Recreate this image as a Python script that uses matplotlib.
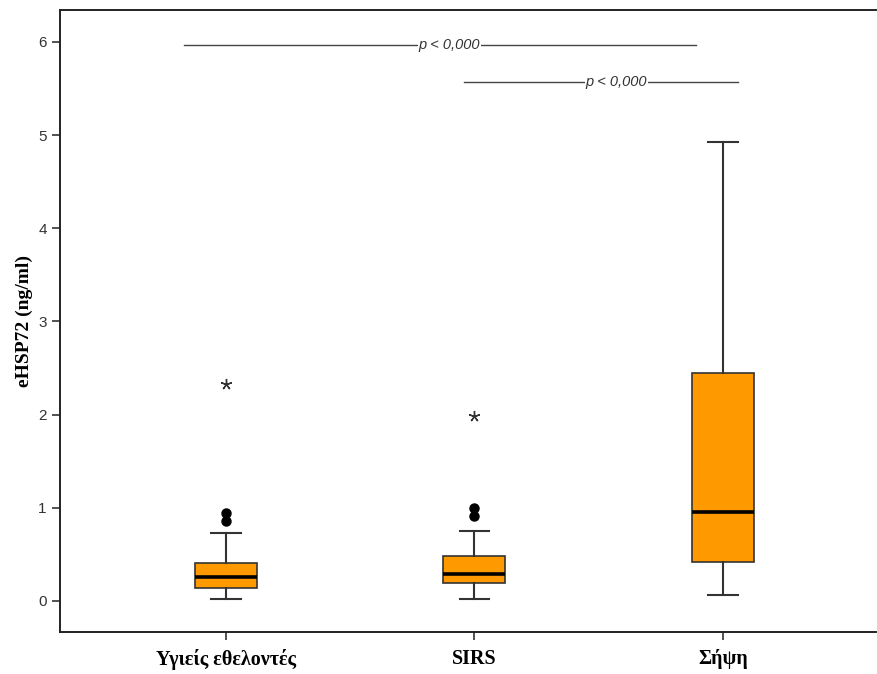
import matplotlib
matplotlib.use("Agg")
import matplotlib.pyplot as plt

# Group summaries (ng/ml)
groups = ["Υγιείς εθελοντές", "SIRS", "Σήψη"]
whisker_low = [0.02, 0.02, 0.06]
q1 = [0.14, 0.19, 0.42]
median = [0.26, 0.29, 0.95]
q3 = [0.41, 0.48, 2.45]
whisker_high = [0.73, 0.75, 4.93]
outliers = [[0.86, 0.94], [0.91, 1.00], []]
extremes = [[2.33], [1.99], []]

# Pairwise comparisons: (from group, to group, height, label)
comp_from = [0.83, 1.96]
comp_to = [2.89, 3.06]
comp_y = [5.97, 5.57]
comp_text_x = [1.90, 2.57]
comp_label = ["p < 0,000", "p < 0,000"]

positions = [1, 2, 3]

fig = plt.figure(figsize=(8.77, 6.74), dpi=100)
ax = fig.add_axes([0.0684, 0.0623, 0.9304, 0.9229])

stats = []
for i, name in enumerate(groups):
    stats.append(dict(label=name, whislo=whisker_low[i], q1=q1[i], med=median[i],
                      q3=q3[i], whishi=whisker_high[i], fliers=outliers[i]))

edge = "#333333"
ax.bxp(stats, positions=positions, widths=0.25, capwidths=0.12,
       patch_artist=True, showfliers=True,
       boxprops=dict(facecolor="#FF9900", edgecolor=edge, linewidth=1.2),
       medianprops=dict(color="black", linewidth=2.6),
       whiskerprops=dict(color=edge, linewidth=1.5),
       capprops=dict(color=edge, linewidth=1.5),
       flierprops=dict(marker="o", markerfacecolor="black", markeredgecolor="black",
                       markersize=6.5, linestyle="none"))

for pos, vals in zip(positions, extremes):
    if vals:
        ax.plot([pos] * len(vals), vals, linestyle="none", marker=(5, 2),
                markersize=8, color="#333333", markeredgewidth=1.0)

for x0, x1, y, tx, lab in zip(comp_from, comp_to, comp_y, comp_text_x, comp_label):
    ax.plot([x0, x1], [y, y], color="#444444", linewidth=1.0)
    ax.text(tx, y, lab, ha="center", va="center", fontsize=10.5, style="italic",
            family="Liberation Sans", color="#333333",
            bbox=dict(facecolor="white", edgecolor="none", pad=0.5))

ax.set_xlim(0.332, 3.616)
ax.set_ylim(-0.333, 6.343)
ax.set_yticks([0, 1, 2, 3, 4, 5, 6])
ax.set_xticks(positions)
ax.set_xticklabels(groups, family="Liberation Serif", fontweight="bold", fontsize=14.5)
for lbl in ax.get_yticklabels():
    lbl.set_family("Liberation Sans")
    lbl.set_fontsize(11)
    lbl.set_color("#333333")

ax.set_ylabel("eHSP72 (ng/ml)", family="Liberation Serif", fontweight="bold",
              fontsize=14, labelpad=4)
ax.tick_params(axis="both", direction="out", length=6, width=1.2, color="#333333")
ax.tick_params(axis="x", pad=6)
for sp in ax.spines.values():
    sp.set_color("#222222")
    sp.set_linewidth(1.4)
ax.spines["right"].set_visible(False)

fig.savefig("out.png", dpi=100)
